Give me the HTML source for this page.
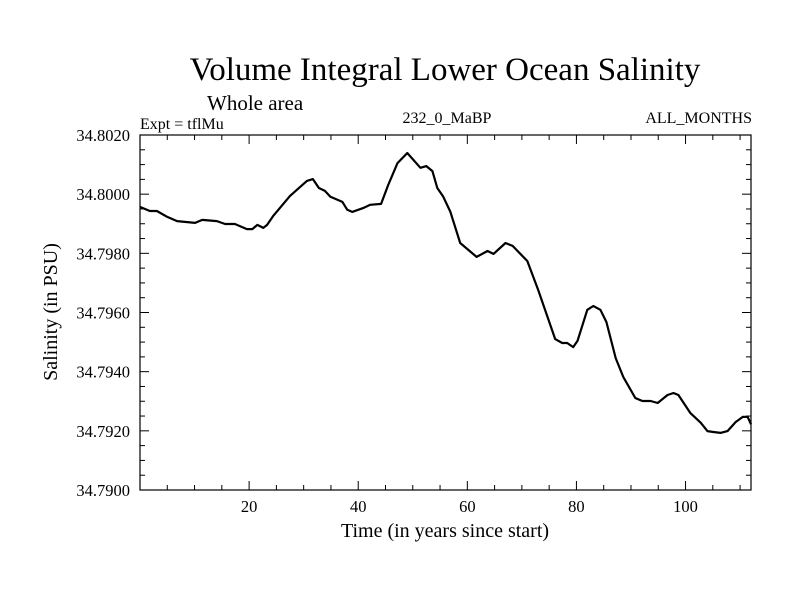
<!DOCTYPE html>
<html><head><meta charset="utf-8"><style>
body{margin:0;background:#fff}
svg{display:block;font-family:"Liberation Serif",serif}
</style></head><body>
<svg id="chart" width="800" height="600" viewBox="0 0 800 600">
<rect width="800" height="600" fill="#fff"/>
<text x="445" y="80" font-size="33" text-anchor="middle">Volume Integral Lower Ocean Salinity</text>
<text x="207" y="110" font-size="21">Whole area</text>
<text x="140" y="129" font-size="16">Expt = tflMu</text>
<text x="447" y="123" font-size="16" text-anchor="middle">232_0_MaBP</text>
<text x="752" y="123" font-size="16" text-anchor="end">ALL_MONTHS</text>
<text transform="translate(57,312) rotate(-90)" font-size="20" text-anchor="middle">Salinity (in PSU)</text>
<text x="445" y="537" font-size="20" text-anchor="middle">Time (in years since start)</text>
<g id="axes"></g>
<path id="line" fill="none" stroke="#000" stroke-width="2.2" stroke-linejoin="round"/>
<rect x="140" y="135" width="611" height="355" fill="none" stroke="#000" stroke-width="1.2"/>
</svg>
<script>
const years=[0,1.8,3.1,5.0,6.8,10.1,11.4,14.1,15.6,17.4,19.6,20.6,21.5,22.6,23.3,24.4,27.5,30.6,31.7,32.8,33.9,34.9,37.1,38.0,38.9,40.9,42.2,44.2,45.5,47.2,49.0,51.4,52.5,53.6,54.5,55.6,56.9,58.7,61.7,63.7,64.8,67.0,68.3,71.0,73.0,74.7,76.1,77.4,78.3,79.4,80.2,82.0,83.1,84.4,85.5,87.2,88.6,90.8,92.1,93.6,94.9,96.7,97.8,98.7,100.9,102.8,104.0,105.1,106.4,107.7,109.2,110.5,111.4,112];
const salinity=[34.79957,34.79943,34.79943,34.79923,34.79909,34.79903,34.79913,34.79909,34.79899,34.79899,34.79882,34.79882,34.79896,34.79886,34.79896,34.79926,34.79994,34.80045,34.80051,34.80021,34.80011,34.79991,34.79974,34.79947,34.79940,34.79953,34.79964,34.79967,34.80031,34.80105,34.80139,34.80089,34.80095,34.80078,34.80021,34.79991,34.79940,34.79835,34.79788,34.79808,34.79798,34.79835,34.79825,34.79774,34.79676,34.79585,34.79510,34.79497,34.79497,34.79483,34.79504,34.79609,34.79622,34.79609,34.79568,34.79446,34.79382,34.79311,34.79301,34.79301,34.79294,34.79321,34.79328,34.79321,34.79260,34.79227,34.79199,34.79196,34.79193,34.79199,34.79230,34.79247,34.79247,34.79222];
const xTicks=[20,40,60,80,100];
const yTicks=[34.7900,34.7920,34.7940,34.7960,34.7980,34.8000,34.8020];
const X0=140,X1=751,Y0=490,Y1=135,xmin=0,xmax=112,ymin=34.79,ymax=34.802;
const sx=v=>X0+(v-xmin)/(xmax-xmin)*(X1-X0);
const sy=v=>Y0-(v-ymin)/(ymax-ymin)*(Y0-Y1);
const NS="http://www.w3.org/2000/svg";
const g=document.getElementById('axes');
function ln(x1,y1,x2,y2,name){const l=document.createElementNS(NS,'line');
l.setAttribute('x1',x1);l.setAttribute('y1',y1);l.setAttribute('x2',x2);l.setAttribute('y2',y2);
l.setAttribute('stroke','#000');l.setAttribute('stroke-width','1');


g.appendChild(l);}
function tx(x,y,s,anchor,name){const t=document.createElementNS(NS,'text');
t.setAttribute('x',x);t.setAttribute('y',y);t.setAttribute('font-size','16.5');t.setAttribute('text-anchor',anchor);t.textContent=s;


g.appendChild(t);}
for(let v=5;v<xmax;v+=5){const x=sx(v),maj=v%20===0,L=maj?9:5;
ln(x,Y0,x,Y0-L,'x-tick');ln(x,Y1,x,Y1+L,'x-tick-top');}
xTicks.forEach(v=>tx(sx(v),512,String(v),'middle','x-tick-label'));
for(let k=0;k<=24;k++){const v=ymin+k*0.0005,y=sy(v),maj=k%4===0,L=maj?9:5;
ln(X0,y,X0+L,y,'y-tick');ln(X1,y,X1-L,y,'y-tick-right');}
yTicks.forEach(v=>tx(130,sy(v)+6,v.toFixed(4),'end','y-tick-label'));
document.getElementById('line').setAttribute('d',years.map((y,i)=>(i?'L':'M')+sx(y).toFixed(1)+' '+sy(salinity[i]).toFixed(1)).join(' '));
</script>
</body></html>
